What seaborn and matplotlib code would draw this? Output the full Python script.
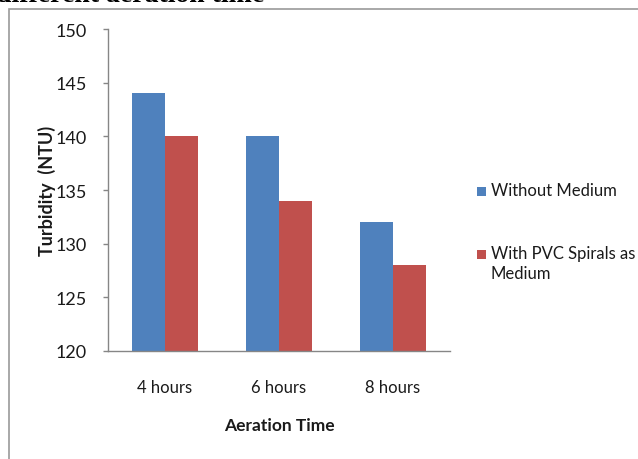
import matplotlib
matplotlib.use("Agg")
import matplotlib.pyplot as plt
import seaborn as sns
import pandas as pd
from matplotlib.patches import Rectangle

categories = ["4 hours", "6 hours", "8 hours"]
series_names = ["Without Medium", "With PVC Spirals as\nMedium"]
without_medium = [144, 140, 132]
with_pvc = [140, 134, 128]
y_ticks = [120, 125, 130, 135, 140, 145, 150]
colors = ["#4F81BD", "#C0504D"]

df = pd.DataFrame({
    "time": categories * 2,
    "series": [series_names[0]] * 3 + [series_names[1]] * 3,
    "turbidity": without_medium + with_pvc,
})

sns.set_theme(style="white")
plt.rcParams["font.family"] = ["Lato", "DejaVu Sans"]

W, H = 638, 460
fig = plt.figure(figsize=(W / 100, H / 100), dpi=100)
ax = fig.add_axes([108 / W, 108 / H, 342 / W, 322 / H])

sns.barplot(data=df, x="time", y="turbidity", hue="series", palette=colors,
            width=0.58, gap=0, saturation=1, linewidth=0, ax=ax, legend=False)

ax.set_ylim(120, 150)
ax.set_xlim(-0.5, 2.5)
ax.set_yticks(y_ticks)
ax.tick_params(axis="y", which="both", left=True, length=3.5, width=1,
               color="#868686", labelsize=13, pad=12, labelcolor="#1a1a1a")
ax.tick_params(axis="x", bottom=False, labelsize=12, pad=14, labelcolor="#1a1a1a")
for side in ("top", "right"):
    ax.spines[side].set_visible(False)
for side in ("left", "bottom"):
    ax.spines[side].set_color("#868686")
    ax.spines[side].set_linewidth(1)

ax.set_xlabel("Aeration Time", fontsize=12.5, fontweight="bold", labelpad=16,
              color="#1a1a1a")
ax.set_ylabel("Turbidity  (NTU)", fontsize=13, fontweight="bold", labelpad=-1,
              color="#1a1a1a")

# legend entries: square key aligned with the first text line
legend_rows = [192, 255]
for name, color, yc in zip(series_names, colors, legend_rows):
    fig.add_artist(Rectangle((477 / W, 1 - (yc + 4.5) / H), 9 / W, 9 / H,
                             transform=fig.transFigure, facecolor=color,
                             edgecolor="none"))
    fig.text(491 / W, 1 - (yc - 9) / H, name, fontsize=12, va="top", ha="left",
             color="#1a1a1a", linespacing=1.3)

# chart frame
fig.add_artist(Rectangle((9 / W, -0.05), 1.0, 1 - 10 / H + 0.05,
                         transform=fig.transFigure, fill=False,
                         edgecolor="#9a9a9a", linewidth=1.2))

# caption text above the chart
fig.text(-0.006, 1 - 2.5 / H, "different aeration time", fontsize=20,
         fontweight="bold", family=["Liberation Serif"], va="baseline",
         ha="left", color="#000000")

fig.savefig("out.png", dpi=100)
